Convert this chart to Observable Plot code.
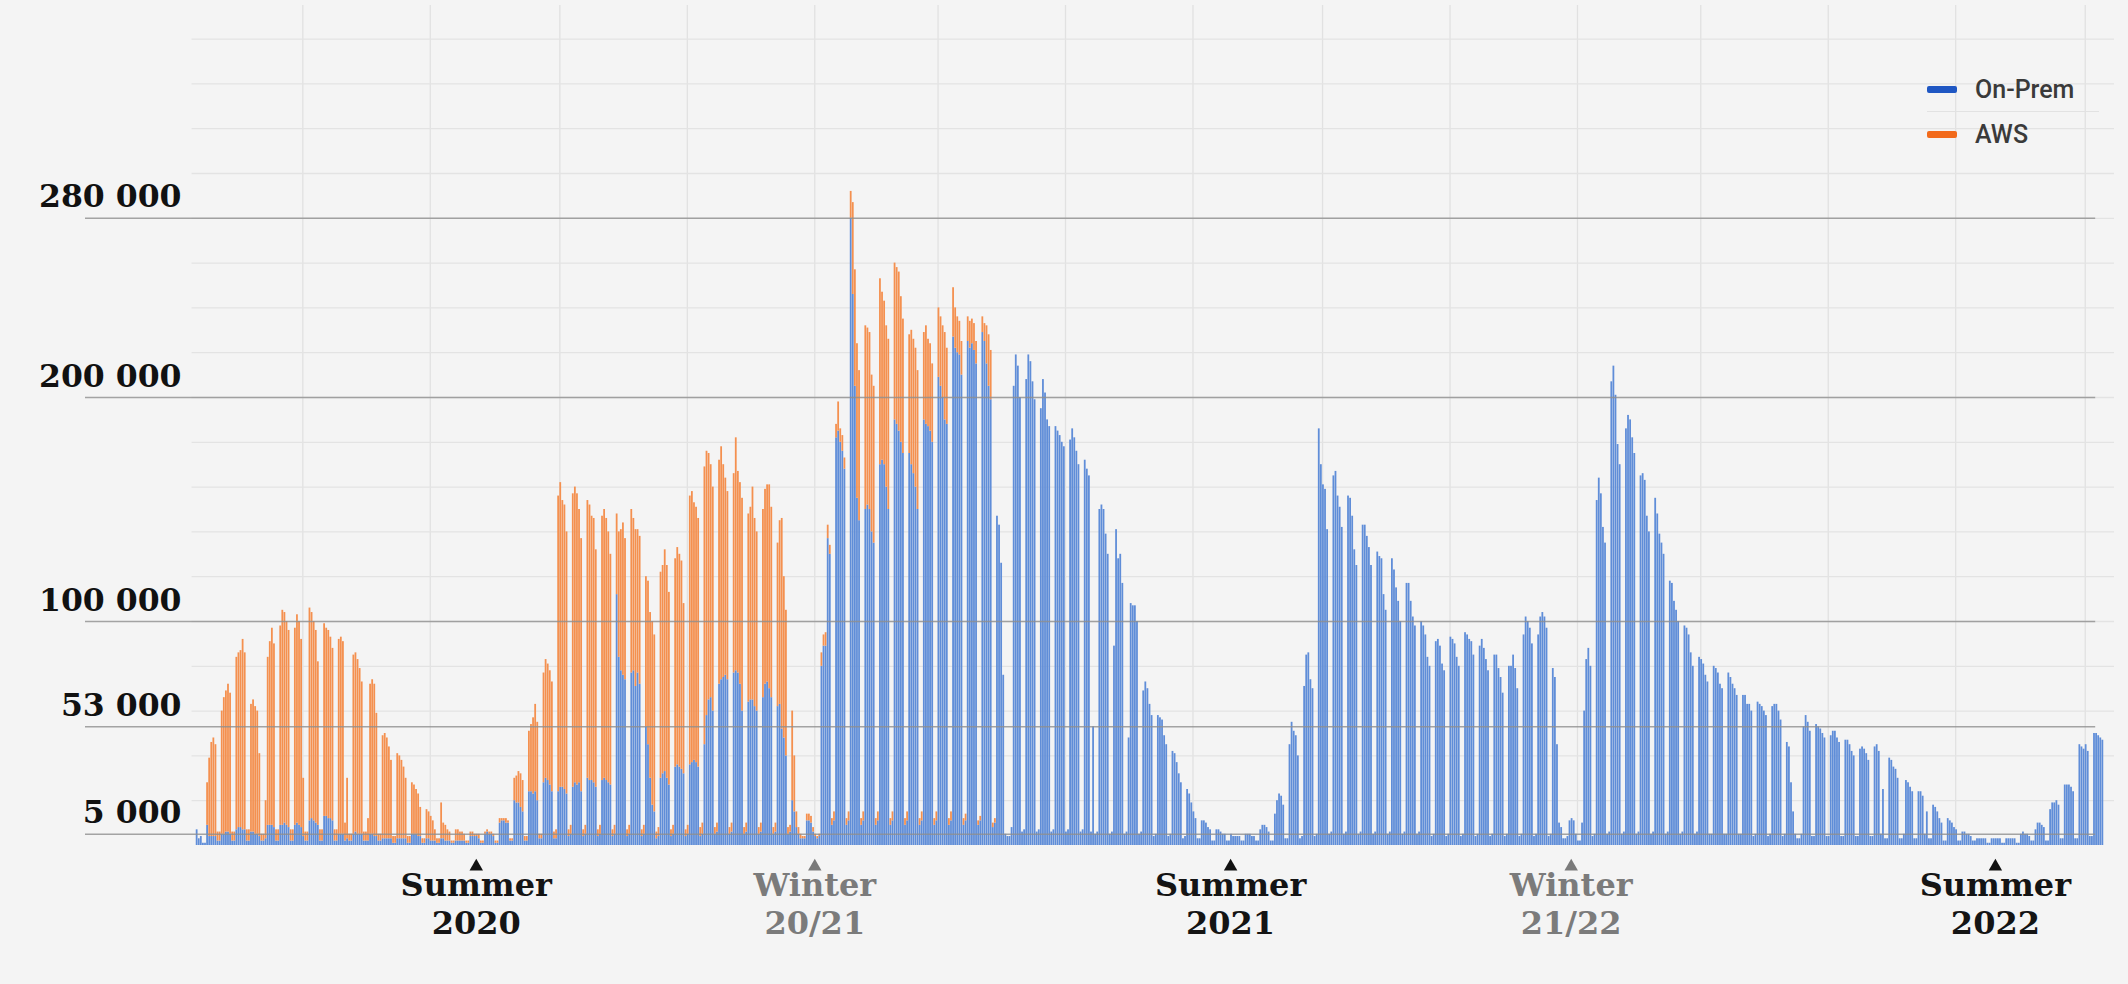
<!DOCTYPE html>
<html><head><meta charset="utf-8">
<script src="https://cdn.jsdelivr.net/npm/d3@7"></script>
<script src="https://cdn.jsdelivr.net/npm/@observablehq/plot@0.6"></script>
<style>
html,body{margin:0;padding:0;background:#f4f4f4;}
#wrap{position:relative;width:2128px;height:984px;overflow:hidden;background:#f4f4f4;}
#wrap svg{position:absolute;left:0;top:0;}
.legend{position:absolute;left:1927px;top:72px;width:172px;font-family:Roboto,"Liberation Sans",sans-serif;font-weight:500;font-size:25px;color:#3a3a3a;}
.legend .row{display:flex;align-items:center;height:34px;}
.legend .sw{width:30px;height:7px;border-radius:2px;margin-right:18px;}
.legend .sep{height:1px;background:#e2e2e2;margin:5px 0;}
</style></head><body><div id="wrap"></div>
<script>
// Daily values in thousands of requests (Mon..Sun rows)
// 2020: starts Wed 2020-03-11
const onPrem2020 = [
7,3,4,1,1,
9,4,4,4,4,2,2,
5,5,6,6,5,2,2,
7,8,8,7,7,2,2,
6,6,5,5,4,2,2,
3,9,9,9,8,2,2,
9,9,10,9,8,2,2,
9,10,9,8,4,2,2,
11,12,11,10,9,2,2,
13,13,12,12,11,2,2,
5,5,5,2,3,2,2,
5,6,5,5,5,2,2,
2,5,5,4,4,2,2,
3,3,3,3,3,1,1,
3,3,3,3,3,1,1,
5,5,5,4,4,1,1,
3,3,2,2,2,1,1,
3,3,2,2,2,1,1,
2,2,2,2,2,1,1,
4,4,4,4,3,1,1,
5,6,5,5,4,1,1,
10,11,11,10,10,2,2,
20,19,19,17,15,2,2,
24,24,23,24,20,3,3,
28,30,29,27,24,3,3,
24,26,26,25,23,4,5,
26,28,27,28,24,4,5,
30,29,29,28,26,4,5,
29,30,29,28,27,4,5,
112,84,78,76,74,4,5,
77,78,71,77,72,4,5,
53,45,30,18,15,3,4,
30,32,33,30,27,4,5,
35,36,35,34,32,4,5,
36,37,38,37,35,4,5,
45,58,65,66,60,5,6,
72,74,75,76,74,5,6,
77,78,77,72,60,5,6,
64,65,65,62,60,5,6,
66,72,73,70,66,5,6,
62,63,52,48,40,5,6,
20,15,8,5,3,3,3,
11,11,10,6,4,3,4
];
const aws2020 = [
0,0,0,0,0,
19,35,42,44,41,4,4,
55,61,63,66,63,4,4,
77,78,79,85,79,5,5,
57,59,57,55,37,3,3,
17,75,82,88,82,5,5,
89,96,94,91,88,5,5,
88,93,91,84,26,4,4,
95,92,89,86,73,5,5,
86,84,84,81,77,5,5,
87,88,86,8,27,3,3,
80,80,78,74,68,4,4,
10,67,69,68,55,3,3,
46,47,45,41,35,3,3,
38,37,35,32,27,3,3,
23,22,20,19,13,2,2,
13,12,11,9,5,2,2,
16,7,7,5,4,1,1,
5,5,4,4,3,1,1,
2,2,1,1,2,1,1,
1,1,1,1,1,1,1,
2,1,1,2,1,1,1,
10,12,14,15,14,2,2,
27,30,34,39,35,2,2,
49,53,52,51,49,3,4,
132,136,128,127,117,3,4,
131,132,130,122,113,3,4,
124,123,118,118,106,3,4,
118,120,117,112,103,3,4,
36,56,63,68,63,3,4,
73,68,70,64,66,3,4,
67,73,74,82,79,3,4,
92,93,99,95,86,3,4,
93,97,95,93,76,3,4,
120,121,115,114,111,4,5,
124,118,110,104,100,3,4,
100,104,95,88,84,3,4,
89,104,90,90,95,3,4,
84,86,95,84,80,3,4,
84,87,88,91,85,3,4,
73,82,94,72,65,3,3,
40,25,7,3,2,1,1,
3,3,3,2,1,1,1
];
// 2021: starts Mon 2021-01-04
const onPrem2021 = [
80,89,89,137,130,9,11,
182,185,180,176,168,9,11,
280,246,205,155,145,9,11,
150,152,150,140,135,9,11,
170,172,170,160,150,9,11,
190,188,185,180,175,9,11,
175,170,166,160,150,9,11,
190,188,187,185,180,9,11,
209,205,200,190,188,9,11,
227,222,220,219,210,9,11,
225,222,224,221,215,9,11,
229,225,215,205,199,8,10,
147,143,126,76,5,4,4,
8,205,219,214,200,6,7,
208,219,216,207,199,6,7,
195,208,202,190,187,6,7,
187,185,183,180,178,6,7,
181,186,182,176,170,6,7,
172,168,165,6,53,5,6,
150,152,150,139,130,5,6,
89,141,128,130,117,5,6,
48,108,107,107,100,5,6,
69,73,70,63,58,4,5,
58,57,56,49,45,4,5,
42,41,37,32,28,3,4,
25,23,19,15,12,3,3,
11,11,10,8,7,2,2,
7,7,6,5,5,2,2,
5,4,4,4,4,2,2,
5,5,5,4,4,2,2,
7,9,9,8,6,2,2,
14,20,23,22,18,3,3,
45,55,51,49,40,3,4,
71,85,86,74,70,4,5,
186,170,161,159,141,5,6,
165,167,156,151,142,5,6,
156,155,147,132,125,5,6,
143,143,138,133,125,5,6,
131,129,128,112,105,5,6,
128,123,115,109,100,5,6,
117,117,109,102,98,5,6,
100,98,94,84,80,4,5,
91,92,89,81,78,4,5,
93,92,90,84,80,4,5,
95,94,92,91,85,4,5,
89,92,88,83,78,4,5,
85,85,79,75,68,4,5,
80,80,85,79,70,4,5,
94,102,100,97,90,4,5,
94,102,104,102,97,4,5,
79,75,45,10,8,3,3,
4,11,12,11,5,2,2
];
const aws2021 = [
6,5,6,6,4,3,4,
6,13,6,7,5,3,4,
12,41,52,69,67,3,4,
82,79,79,70,70,3,4,
83,75,73,72,76,3,4,
70,70,71,65,60,3,4,
53,60,60,62,62,3,4,
39,44,39,39,35,3,4,
31,31,32,39,34,3,4,
22,18,16,15,15,3,3,
11,12,11,12,10,2,2,
7,8,17,23,22,2,2
];
// 2022: starts Mon 2022-01-03
const onPrem2022 = [
10,60,83,88,80,4,5,
154,164,157,142,135,5,6,
207,214,201,179,170,5,6,
186,192,190,182,175,5,6,
165,166,163,147,140,5,6,
155,148,139,135,130,5,6,
118,117,109,105,100,5,6,
98,97,94,86,80,5,6,
84,83,81,76,73,5,5,
80,79,77,72,70,5,5,
77,75,72,70,67,5,5,
67,67,63,63,60,4,5,
64,63,62,60,58,4,5,
62,63,63,60,56,4,5,
46,44,28,15,5,3,3,
5,53,58,55,51,4,4,
54,53,52,50,48,4,4,
49,51,51,48,46,4,4,
47,47,45,42,40,4,4,
43,44,43,41,38,4,4,
44,45,42,5,25,3,3,
39,38,35,34,30,3,3,
5,29,28,26,24,3,3,
24,24,22,5,15,3,3,
18,17,15,12,10,2,2,
12,11,10,8,7,2,2,
6,6,5,5,4,2,2,
3,3,3,3,3,1,1,
3,3,3,3,3,1,1,
3,3,3,3,3,1,1,
5,6,5,5,4,2,2,
7,10,10,9,8,2,2,
16,19,19,20,18,3,3,
27,27,27,26,24,3,3,
45,44,43,45,42,4,4,
50,50,49,48,47
];
const aws2022 = [];

const seriesNames = ["On-Prem", "AWS"];
const seriesColors = ["#5f8dd8", "#f4904f"];
const legendColors = ["#1f57c3", "#f26a1b"];

const yTicks = [5000, 53000, 100000, 200000, 280000];
const yTickLabels = ["5 000", "53 000", "100 000", "200 000", "280 000"];

const seasonDates = ["2020-07-23", "2021-01-01", "2021-07-19", "2021-12-29", "2022-07-20"];
const seasonLabels = ["Summer\n2020", "Winter\n20/21", "Summer\n2021", "Winter\n21/22", "Summer\n2022"];
const seasonKinds = ["summer", "winter", "summer", "winter", "summer"];

// ---- build table ----
const DAY = 864e5;
const rows = [];
function addPeriod(startISO, onp, aws) {
  const t0 = Date.parse(startISO + "T00:00:00Z");
  for (let i = 0; i < onp.length; i++) {
    const d0 = new Date(t0 + i * DAY), d1 = new Date(t0 + (i + 1) * DAY);
    const b = onp[i] * 1000, a = (aws[i] ?? 0) * 1000;
    rows.push({series: "On-Prem", x1: d0, x2: d1, y1: 0, y2: b});
    if (a > 0) rows.push({series: "AWS", x1: d0, x2: d1, y1: b, y2: b + a});
  }
}
addPeriod("2020-03-11", onPrem2020, aws2020);
addPeriod("2021-01-04", onPrem2021, aws2021);
addPeriod("2022-01-03", onPrem2022, aws2022);

const seasons = seasonDates.map((d, i) => ({date: new Date(d), label: seasonLabels[i], kind: seasonKinds[i]}));
const summer = seasons.filter(s => s.kind === "summer");
const winter = seasons.filter(s => s.kind === "winter");

const xDomain = [new Date("2020-01-18"), new Date("2022-09-15")];
const minorStart = new Date("2020-03-09");
const darkEnd = new Date("2022-09-06");
const minorY = d3.range(20000, 380000, 20000);
const vLines = d3.utcMonth.every(2).range(new Date("2020-05-01"), new Date("2022-09-02"));

const serif = "DejaVu Serif";
const chart = Plot.plot({
  width: 2128, height: 984,
  marginLeft: 85, marginRight: 14, marginTop: 5, marginBottom: 139,
  style: {background: "transparent", overflow: "visible"},
  x: {type: "utc", domain: xDomain, axis: null},
  y: {domain: [0, 375000], axis: null},
  color: {domain: seriesNames, range: seriesColors},
  marks: [
    Plot.ruleX(vLines, {stroke: "#e1e1e1", strokeWidth: 1.3}),
    Plot.ruleY(minorY, {x1: minorStart, x2: xDomain[1], stroke: "#e3e3e3", strokeWidth: 1.3}),
    Plot.rect(rows, {x1: "x1", x2: "x2", y1: "y1", y2: "y2", fill: "series", insetRight: 0.3}),
    Plot.ruleY(yTicks, {x1: xDomain[0], x2: darkEnd, stroke: "#8f8f8f", strokeWidth: 1.4, strokeOpacity: 0.8}),
    Plot.text(yTicks, {y: d => d, text: (d, i) => yTickLabels[i], frameAnchor: "left", dx: 96, textAnchor: "end",
      lineAnchor: "bottom", dy: -11, fontFamily: serif, fontWeight: "bold", fontSize: 31.5, fill: "#111"}),
    Plot.dot(summer, {x: "date", frameAnchor: "bottom", dy: 21, symbol: "triangle", r: 5, fill: "#111", stroke: null}),
    Plot.dot(winter, {x: "date", frameAnchor: "bottom", dy: 21, symbol: "triangle", r: 5, fill: "#7a7a7a", stroke: null}),
    Plot.text(summer, {x: "date", text: "label", frameAnchor: "bottom", dy: 23, lineAnchor: "top", lineHeight: 1.19,
      fontFamily: serif, fontWeight: "bold", fontSize: 32, fill: "#141414"}),
    Plot.text(winter, {x: "date", text: "label", frameAnchor: "bottom", dy: 23, lineAnchor: "top", lineHeight: 1.19,
      fontFamily: serif, fontWeight: "bold", fontSize: 32, fill: "#7b7b7b"})
  ]
});
const wrap = document.getElementById("wrap");
wrap.appendChild(chart);

const legend = document.createElement("div");
legend.className = "legend";
seriesNames.forEach((name, i) => {
  if (i > 0) { const s = document.createElement("div"); s.className = "sep"; legend.appendChild(s); }
  const row = document.createElement("div"); row.className = "row";
  const sw = document.createElement("div"); sw.className = "sw"; sw.style.background = legendColors[i];
  const tx = document.createElement("span"); tx.textContent = name;
  row.appendChild(sw); row.appendChild(tx); legend.appendChild(row);
});
wrap.appendChild(legend);
</script></body></html>
